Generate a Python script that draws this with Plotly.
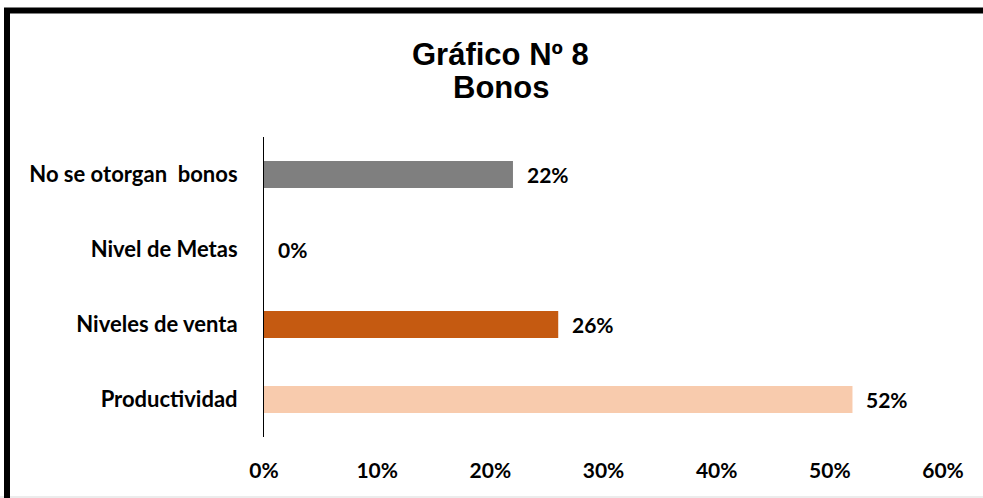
import plotly.graph_objects as go

# Survey results: type of bonus granted
categorias = ["Productividad", "Niveles de venta", "Nivel de Metas", "No se otorgan  bonos"]
porcentajes = [0.52, 0.26, 0.0, 0.22]
colores = ["#F8CBAD", "#C55A11", "#A5A5A5", "#7F7F7F"]
ticks_x = [0, 0.1, 0.2, 0.3, 0.4, 0.5, 0.6]
titulo_1 = "Gráfico Nº 8"
titulo_2 = "Bonos"

W, H = 983, 498
cat_font = dict(family="Lato, 'Open Sans', Arial, sans-serif", size=22, color="#000000")
num_font = dict(family="Lato, 'Open Sans', Arial, sans-serif", size=21, color="#000000")
title_font = dict(family="Arial, 'Liberation Sans', sans-serif", size=31, color="#000000")


def px_x(v):
    return v / W


def px_y(v):
    return 1 - v / H


fig = go.Figure()
fig.add_trace(go.Bar(
    y=categorias,
    x=porcentajes,
    orientation="h",
    marker=dict(color=colores, line=dict(width=0)),
    width=0.36,
    hoverinfo="skip",
))

# value labels to the right of each bar
annotations = []
for cat, val in zip(categorias, porcentajes):
    annotations.append(dict(
        x=val, y=cat, xref="x", yref="y",
        text=f"<b>{val:.0%}</b>", showarrow=False,
        xanchor="left", yanchor="middle", xshift=12,
        font=num_font,
    ))

# two-line title
annotations.append(dict(
    x=px_x(500), y=px_y(54), xref="paper", yref="paper",
    text=f"<b>{titulo_1}</b>", showarrow=False,
    xanchor="center", yanchor="middle", font=title_font,
))
annotations.append(dict(
    x=px_x(501), y=px_y(88), xref="paper", yref="paper",
    text=f"<b>{titulo_2}</b>", showarrow=False,
    xanchor="center", yanchor="middle", font=title_font,
))

# thick frame along the top and left edges, as an open polyline
shapes = [
    dict(type="line", xref="paper", yref="paper",
         x0=0, x1=px_x(983), y0=px_y(497), y1=px_y(497),
         line=dict(color="#D9D9D9", width=1)),
    dict(type="path", xref="paper", yref="paper",
         path=(f"M {px_x(7)},{px_y(500)} L {px_x(7)},{px_y(10.5)} "
               f"L {px_x(990)},{px_y(10.5)}"),
         line=dict(color="#000000", width=6), fillcolor="rgba(0,0,0,0)"),
]

fig.update_layout(
    template="none",
    width=W, height=H,
    autosize=False,
    margin=dict(l=0, r=0, t=0, b=0, pad=0, autoexpand=False),
    paper_bgcolor="#FFFFFF",
    plot_bgcolor="#FFFFFF",
    showlegend=False,
    annotations=annotations,
    shapes=shapes,
    xaxis=dict(
        domain=[px_x(264), px_x(943)],
        range=[0, 0.6],
        tickvals=ticks_x,
        ticktext=[f"<b>{t:.0%}</b>" for t in ticks_x],
        tickfont=num_font,
        showgrid=False, zeroline=False, showline=False,
        ticks="", ticklabelstandoff=19,
        automargin=False,
        fixedrange=True,
    ),
    yaxis=dict(
        domain=[px_y(437), px_y(137)],
        categoryorder="array", categoryarray=categorias,
        range=[-0.5, 3.5],
        tickvals=categorias,
        ticktext=[f"<b>{c}</b>" for c in categorias],
        tickfont=cat_font,
        showgrid=False, zeroline=False,
        showline=True, linecolor="#000000", linewidth=1,
        ticks="", ticklabelstandoff=21,
        automargin=False,
        fixedrange=True,
    ),
)

fig.write_html(
    "out.html",
    config={"displayModeBar": False},
    post_script="document.body.style.margin='0';document.body.style.overflow='hidden';",
)
